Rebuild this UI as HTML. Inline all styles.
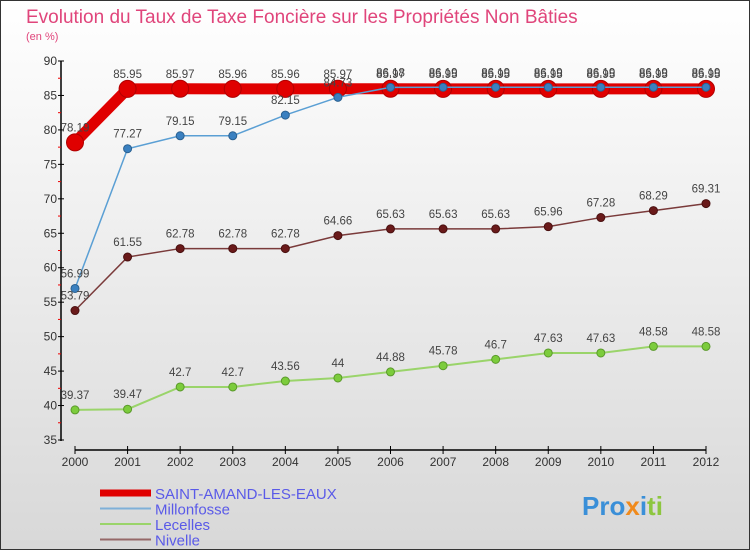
<!DOCTYPE html>
<html><head><meta charset="utf-8"><style>
body{margin:0;width:750px;height:550px;overflow:hidden;font-family:"Liberation Sans",sans-serif}
</style></head><body>
<svg id="c" width="750" height="550" xmlns="http://www.w3.org/2000/svg">
<defs><linearGradient id="bg" x1="0" y1="0" x2="0" y2="1"><stop offset="0" stop-color="#ffffff"/><stop offset="1" stop-color="#d8d8d8"/></linearGradient></defs>
<rect x="0.5" y="0.5" width="749" height="549" fill="url(#bg)" stroke="#333"/>
<text x="26" y="23" font-size="19" fill="#e0457b">Evolution du Taux de Taxe Foncière sur les Propriétés Non Bâties</text>
<text x="26" y="40" font-size="11" fill="#e0457b">(en %)</text>
<g id="axes"></g><g id="series"></g><g id="legend"></g>
<text x="582" y="515" font-size="26" font-weight="bold" fill="#3a8fd8">Pro<tspan fill="#f08a1c">x</tspan><tspan fill="#3a8fd8">i</tspan><tspan fill="#8dc63f">ti</tspan></text>
</svg>
<script>
const years=[2000,2001,2002,2003,2004,2005,2006,2007,2008,2009,2010,2011,2012];
const saint=[78.19,85.95,85.97,85.96,85.96,85.97,85.97,85.95,85.95,85.95,85.95,85.95,85.95];
const millon=[56.99,77.27,79.15,79.15,82.15,84.73,86.18,86.19,86.19,86.19,86.19,86.19,86.19];
const lecelles=[39.37,39.47,42.7,42.7,43.56,44,44.88,45.78,46.7,47.63,47.63,48.58,48.58];
const nivelle=[53.79,61.55,62.78,62.78,62.78,64.66,65.63,65.63,65.63,65.96,67.28,68.29,69.31];
const yTicks=[35,40,45,50,55,60,65,70,75,80,85,90];
const NS="http://www.w3.org/2000/svg";
const X=i=>75+i*(706-75)/(years.length-1);
const Y=v=>440-(v-35)*(440-61)/55;
function mk(p,t,a){const e=document.createElementNS(NS,t);for(const k in a)e.setAttribute(k,a[k]);p.appendChild(e);return e;}
const ax=document.getElementById('axes');
let l=mk(ax,'line',{x1:61,y1:61,x2:61,y2:441,stroke:'#000','stroke-width':1.5});


l=mk(ax,'line',{x1:75,y1:450,x2:706,y2:450,stroke:'#000','stroke-width':1.5});


yTicks.forEach(v=>{
 mk(ax,'line',{x1:58,x2:64,y1:Y(v),y2:Y(v),stroke:'#000'});
 if(v<90) mk(ax,'line',{x1:58,x2:61,y1:Y(v+2.5),y2:Y(v+2.5),stroke:'#e00'});
 const t=mk(ax,'text',{x:57,y:Y(v)+4,'font-size':12,fill:'#333','text-anchor':'end'});t.textContent=v;
 
 
});
years.forEach((y,i)=>{
 mk(ax,'line',{x1:X(i),x2:X(i),y1:446,y2:454,stroke:'#000'});
 const t=mk(ax,'text',{x:X(i),y:466,'font-size':12,fill:'#333','text-anchor':'middle'});t.textContent=y;
 
 
});
const sg=document.getElementById('series');
function draw(vals,color,w,r,name,fill,edge){
 const g=mk(sg,'g',{});
 
 
 const pl=mk(g,'polyline',{points:vals.map((v,i)=>X(i)+','+Y(v)).join(' '),fill:'none',stroke:color,'stroke-width':w});
 
 
 vals.forEach((v,i)=>{
  const c=mk(g,'circle',{cx:X(i),cy:Y(v),r:r,fill:fill,stroke:edge,'stroke-width':1});
  
  
  const t=mk(g,'text',{x:X(i),y:Y(v)-11,'font-size':11.5,fill:'#444','text-anchor':'middle'});t.textContent=v;
  
  
 });
}
draw(saint,'#e00000',11,8.5,'saint-amand','#e00000','#b00000');
draw(millon,'#5a9fd4',1.5,4,'millonfosse','#3a80c0','#2a6090');
draw(lecelles,'#9ad46a',2,4,'lecelles','#7ccc3c','#5a9a2a');
draw(nivelle,'#7a3a3a',1.5,4,'nivelle','#6a1a1a','#4a1010');
const lg=document.getElementById('legend');
[['SAINT-AMAND-LES-EAUX','#e00000',7],['Millonfosse','#7fb0d8',2],['Lecelles','#9ad46a',2],['Nivelle','#956868',2]].forEach((d,i)=>{
 const y=493+i*15.5;
 const r=mk(lg,'line',{x1:100,x2:151,y1:y,y2:y,stroke:d[1],'stroke-width':d[2]});
 
 
 const t=mk(lg,'text',{x:155,y:y+6,'font-size':15,fill:'#5a5ae8'});t.textContent=d[0];
 
 
});
</script>
</body></html>
